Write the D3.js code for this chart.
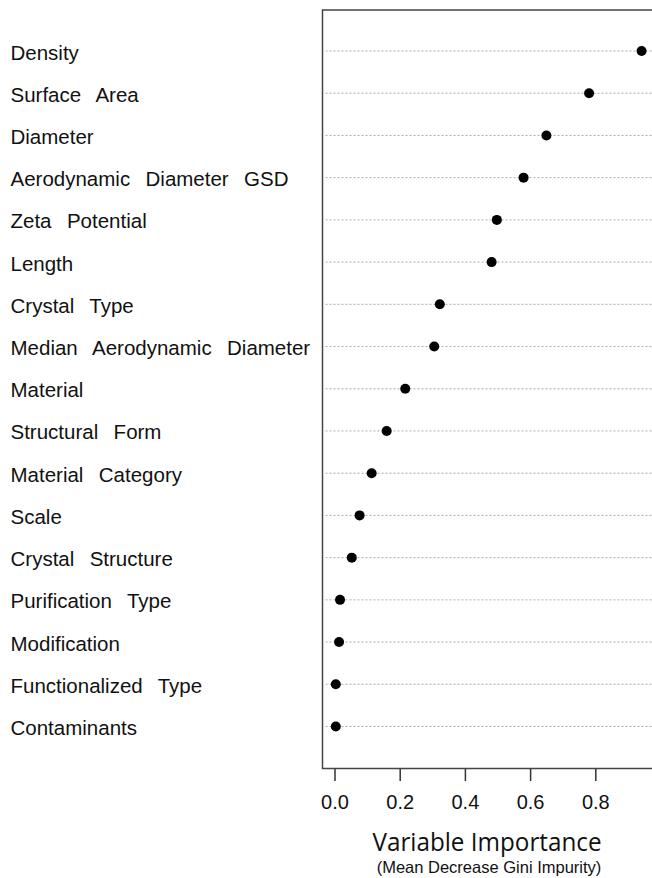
<!DOCTYPE html>
<html>
<head>
<meta charset="utf-8">
<script src="https://cdn.jsdelivr.net/npm/d3@7"></script>
<style>
  html, body { margin: 0; padding: 0; background: #fff; }
  svg text { white-space: pre; }
</style>
</head>
<body>
<svg id="chart" width="652" height="878"></svg>
<script>
const variables = [
  "Density", "Surface  Area", "Diameter", "Aerodynamic  Diameter  GSD",
  "Zeta  Potential", "Length", "Crystal  Type", "Median  Aerodynamic  Diameter",
  "Material", "Structural  Form", "Material  Category", "Scale",
  "Crystal  Structure", "Purification  Type", "Modification",
  "Functionalized  Type", "Contaminants"
];
const importance = [
  0.942, 0.781, 0.650, 0.580, 0.498, 0.482, 0.323, 0.306,
  0.217, 0.160, 0.114, 0.077, 0.053, 0.017, 0.014, 0.004, 0.004
];
const xTicks = [0.0, 0.2, 0.4, 0.6, 0.8];
const xTitle = "Variable Importance";
const xSubtitle = "(Mean Decrease Gini Impurity)";

const svg = d3.select("#chart");
const box = { left: 322.5, right: 652.5, top: 10, bottom: 768.5 };

const x = d3.scaleLinear().domain([0, 1]).range([334.5, 660.5]);
const y = d3.scaleLinear().domain([0, variables.length - 1]).range([51, 726.5]);

// dotted guide lines
svg.append("g").selectAll("line").data(variables).join("line")
  .attr("x1", box.left + 3).attr("x2", box.right)
  .attr("y1", (d, i) => y(i)).attr("y2", (d, i) => y(i))
  .attr("stroke", "#aaa").attr("stroke-width", 1)
  .attr("stroke-dasharray", "2,2");

// box
svg.append("path")
  .attr("d", `M${box.right},${box.top}H${box.left}V${box.bottom}H${box.right}`)
  .attr("fill", "none").attr("stroke", "#444").attr("stroke-width", 1.5);

// points
svg.append("g").selectAll("circle").data(importance).join("circle")
  .attr("cx", d => x(d)).attr("cy", (d, i) => y(i))
  .attr("r", 5).attr("fill", "#000");

// labels
svg.append("g").selectAll("text").data(variables).join("text")
  .attr("x", 10.5).attr("y", (d, i) => y(i) + 8.5)
  .attr("font-family", "Liberation Sans, Arial, sans-serif")
  .attr("font-size", 20.5).attr("fill", "#111")
  .attr("word-spacing", 2)
  .text(d => d);

// x axis
const axis = d3.axisBottom(x).tickValues(xTicks).tickFormat(d3.format(".1f"))
  .tickSize(12).tickPadding(14);
const gx = svg.append("g").attr("transform", `translate(0,${box.bottom + 0.5})`).call(axis);
gx.select(".domain").remove();
gx.selectAll(".tick line").attr("stroke", "#333").attr("stroke-width", 1.5);
gx.selectAll(".tick text")
  .attr("font-family", "Liberation Sans, Arial, sans-serif")
  .attr("font-size", 20).attr("fill", "#111");

// axis titles
svg.append("text")
  .attr("x", 487).attr("y", 851)
  .attr("text-anchor", "middle")
  .attr("font-family", "Open Sans, sans-serif")
  .attr("font-size", 26).attr("fill", "#111")
  .attr("textLength", 229).attr("lengthAdjust", "spacingAndGlyphs")
  .text(xTitle);
svg.append("text")
  .attr("x", 489).attr("y", 873)
  .attr("text-anchor", "middle")
  .attr("font-family", "Liberation Sans, Arial, sans-serif")
  .attr("font-size", 16.5).attr("fill", "#111")
  .text(xSubtitle);
</script>
</body>
</html>
